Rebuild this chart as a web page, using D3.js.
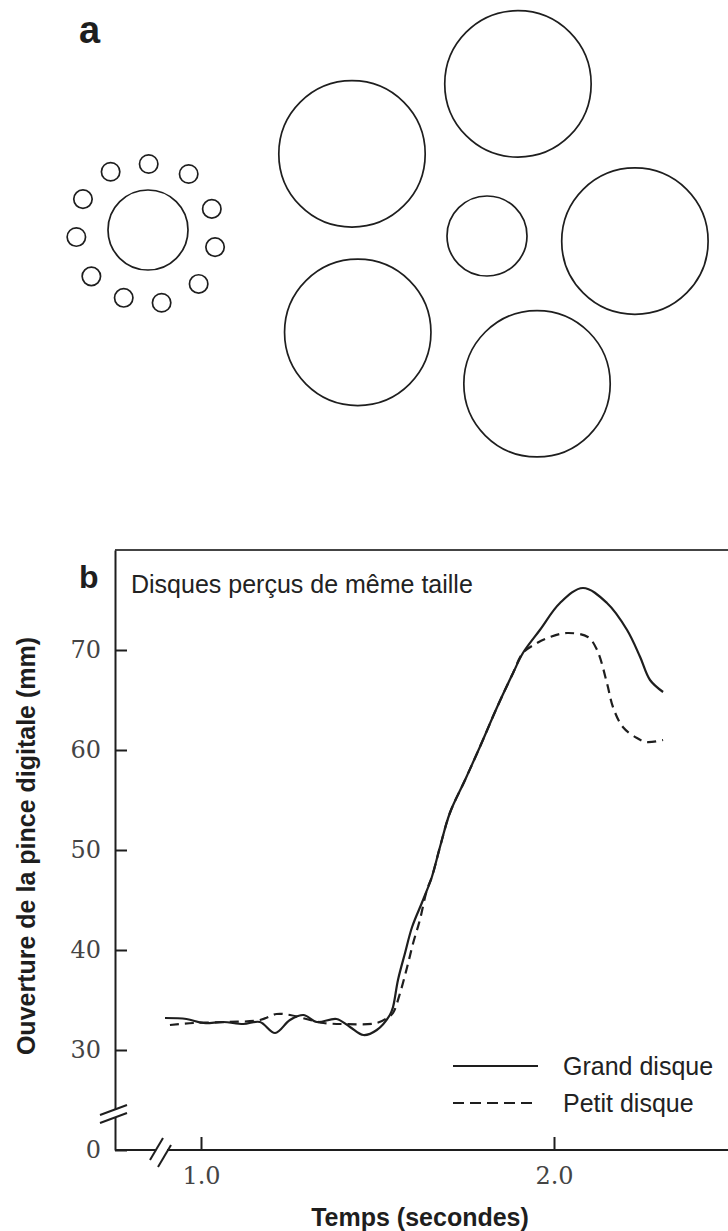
<!DOCTYPE html>
<html>
<head>
<meta charset="utf-8">
<script src="https://cdn.jsdelivr.net/npm/d3@7"></script>
<style>
  html, body { margin: 0; padding: 0; background: #fff; }
  svg { display: block; }
</style>
</head>
<body>
<script>
// ---------- Panel a data (relative units: central disc radius = 1) ----------
const ringAngles = [0.6, 36, 71.7, 104.3, 136.8, 169.4, 199.7, 230.7, 264.4, 295.4, 327.3];
const ringDist   = [1.65, 1.73, 1.68, 1.73, 1.85, 1.85, 1.80, 1.83, 1.80, 1.80, 1.73];
const ringRadius = 0.23;
const bigAngles  = [11.5, 92, 161.3, 233.3, 301.3];
const bigDist    = [3.88, 3.70, 3.90, 4.03, 3.95];
const bigRadius  = 1.83;
const centreRadius = 1;

// ---------- Panel b data ----------
const grandT = [0.898, 0.959, 1.007, 1.063, 1.120, 1.167, 1.210, 1.252, 1.290, 1.328, 1.384, 1.422, 1.460, 1.498, 1.535, 1.544, 1.558, 1.578, 1.598, 1.629, 1.654, 1.677, 1.705, 1.748, 1.790, 1.839, 1.884, 1.912, 1.960, 2.017, 2.082, 2.150, 2.207, 2.244, 2.272, 2.309];
const grandV = [33.2, 33.1, 32.7, 32.8, 32.6, 32.8, 31.7, 33.0, 33.5, 32.8, 33.1, 32.3, 31.5, 32.0, 33.5, 34.3, 37.0, 39.7, 42.3, 45.0, 47.3, 50.3, 53.7, 57.0, 60.3, 64.3, 67.7, 69.7, 72.0, 74.7, 76.2, 74.7, 72.0, 69.3, 67.0, 65.8];
const petitT = [0.912, 0.978, 1.073, 1.167, 1.214, 1.252, 1.309, 1.347, 1.403, 1.498, 1.531, 1.544, 1.564, 1.584, 1.601, 1.620, 1.640, 1.654, 1.677, 1.705, 1.748, 1.790, 1.839, 1.884, 1.912, 1.952, 1.989, 2.037, 2.096, 2.122, 2.150, 2.167, 2.195, 2.235, 2.263, 2.309];
const petitV = [32.5, 32.7, 32.8, 33.0, 33.6, 33.5, 33.0, 32.7, 32.6, 32.7, 33.3, 33.7, 35.7, 38.3, 40.7, 43.0, 46.0, 47.3, 50.3, 53.7, 57.0, 60.3, 64.3, 67.7, 69.7, 70.7, 71.3, 71.7, 71.3, 70.0, 66.7, 64.3, 62.3, 61.2, 60.8, 61.0];
const yTicks = [0, 30, 40, 50, 60, 70];
const yTickLabels = ["0", "30", "40", "50", "60", "70"];
const xTicks = [1, 2];
const xTickLabels = ["1.0", "2.0"];
const seriesNames = ["Grand disque", "Petit disque"];
const chartTitle = "Disques perçus de même taille";
const xTitle = "Temps (secondes)";
const yTitle = "Ouverture de la pince digitale (mm)";

(function () {
const INK = "#1e1e1e";
const SANS = "Liberation Sans, Arial, sans-serif";
const svg = d3.select("body").append("svg").attr("width", 728).attr("height", 1231);

// ================= Panel a =================
svg.append("text").attr("x", 79).attr("y", 43)
  .attr("font-family", SANS).attr("font-weight", "bold")
  .attr("font-size", 38).attr("fill", INK).text("a");

const unit = d3.scaleLinear().domain([0, 1]).range([0, 40]);
function polar(cx, cy, angDeg, dist) {
  const a = angDeg * Math.PI / 180;
  return [cx + unit(dist) * Math.sin(a), cy - unit(dist) * Math.cos(a)];
}
const gA = svg.append("g").attr("fill", "none").attr("stroke", INK).attr("stroke-width", 1.7);

const c1 = [148, 230];
gA.append("circle").attr("cx", c1[0]).attr("cy", c1[1]).attr("r", unit(centreRadius));
gA.selectAll("circle.small").data(ringAngles.map((a, i) => polar(c1[0], c1[1], a, ringDist[i])))
  .join("circle").attr("class", "small")
  .attr("cx", d => d[0]).attr("cy", d => d[1]).attr("r", unit(ringRadius));

const c2 = [487, 236];
gA.append("circle").attr("cx", c2[0]).attr("cy", c2[1]).attr("r", unit(centreRadius));
gA.selectAll("circle.big").data(bigAngles.map((a, i) => polar(c2[0], c2[1], a, bigDist[i])))
  .join("circle").attr("class", "big")
  .attr("cx", d => d[0]).attr("cy", d => d[1]).attr("r", unit(bigRadius));

// ================= Panel b =================
svg.append("text").attr("x", 79).attr("y", 588)
  .attr("font-family", SANS).attr("font-weight", "bold")
  .attr("font-size", 32).attr("fill", INK).text("b");

const pLeft = 115, pTop = 550, pBottom = 1150, pRight = 728;
const x = d3.scaleLinear().domain([1, 2]).range([201, 554]);
const y = d3.scaleLinear().domain([0, 30, 80]).range([pBottom, 1050, pTop]);

svg.append("line").attr("x1", pLeft).attr("x2", pRight).attr("y1", pTop).attr("y2", pTop)
  .attr("stroke", "#444").attr("stroke-width", 1.8);

const yAxis = d3.axisLeft(y).tickValues(yTicks).tickSize(-12).tickSizeOuter(0).tickPadding(14)
  .tickFormat((d, i) => yTickLabels[i]);
const gy = svg.append("g").attr("transform", `translate(${pLeft},0)`).call(yAxis);
gy.select(".domain").attr("stroke", INK).attr("stroke-width", 2);
gy.selectAll(".tick line").attr("stroke", INK).attr("stroke-width", 2);
gy.selectAll(".tick text").attr("font-family", "DejaVu Serif, serif").attr("font-size", 24)
  .attr("fill", "#444");

svg.append("line").attr("x1", pLeft).attr("x2", pRight).attr("y1", pBottom).attr("y2", pBottom)
  .attr("stroke", INK).attr("stroke-width", 2);
const xAxis = d3.axisBottom(x).tickValues(xTicks).tickSize(-13).tickPadding(17)
  .tickFormat((d, i) => xTickLabels[i]);
const gx = svg.append("g").attr("transform", `translate(0,${pBottom})`).call(xAxis);
gx.select(".domain").remove();
gx.selectAll(".tick line").attr("stroke", INK).attr("stroke-width", 2);
gx.selectAll(".tick text").attr("font-family", "DejaVu Serif, serif").attr("font-size", 24)
  .attr("fill", "#444");

// axis breaks
svg.append("rect").attr("x", pLeft - 3).attr("y", 1110).attr("width", 6).attr("height", 7).attr("fill", "#fff");
svg.append("rect").attr("x", 156).attr("y", pBottom - 3).attr("width", 11).attr("height", 6).attr("fill", "#fff");
const brkG = svg.append("g").attr("stroke", INK).attr("stroke-width", 2);
brkG.append("line").attr("x1", 100).attr("y1", 1115).attr("x2", 127).attr("y2", 1105);
brkG.append("line").attr("x1", 100).attr("y1", 1123).attr("x2", 127).attr("y2", 1113);
brkG.append("line").attr("x1", 150).attr("y1", 1160).attr("x2", 163).attr("y2", 1138);
brkG.append("line").attr("x1", 158).attr("y1", 1167).attr("x2", 171).attr("y2", 1145);

svg.append("text").attr("x", 131).attr("y", 593)
  .attr("font-family", SANS).attr("font-size", 25)
  .attr("fill", "#222").text(chartTitle);
svg.append("text").attr("x", 420).attr("y", 1226).attr("text-anchor", "middle")
  .attr("font-family", SANS).attr("font-weight", "bold")
  .attr("font-size", 25).attr("fill", INK).text(xTitle);
svg.append("text").attr("transform", "translate(35,846) rotate(-90)").attr("text-anchor", "middle")
  .attr("font-family", SANS).attr("font-weight", "bold")
  .attr("font-size", 25).attr("fill", INK).text(yTitle);

const line = d3.line().x(d => x(d[0])).y(d => y(d[1])).curve(d3.curveCatmullRom.alpha(0.5));
svg.append("path").datum(grandT.map((t, i) => [t, grandV[i]]))
  .attr("d", line).attr("fill", "none").attr("stroke", INK).attr("stroke-width", 2.2);
svg.append("path").datum(petitT.map((t, i) => [t, petitV[i]]))
  .attr("d", line).attr("fill", "none").attr("stroke", INK).attr("stroke-width", 2.2)
  .attr("stroke-dasharray", "9,6");

const legY = [1066, 1103];
const leg = svg.append("g");
leg.selectAll("line").data(seriesNames).join("line")
  .attr("x1", 453).attr("x2", 538).attr("y1", (d, i) => legY[i]).attr("y2", (d, i) => legY[i])
  .attr("stroke", INK).attr("stroke-width", 2)
  .attr("stroke-dasharray", (d, i) => i === 0 ? null : "11,6");
leg.selectAll("text").data(seriesNames).join("text")
  .attr("x", 563).attr("y", (d, i) => legY[i]).attr("dy", "0.35em")
  .attr("font-family", SANS).attr("font-size", 25)
  .attr("fill", "#222").text(d => d);
})();
</script>
</body>
</html>
